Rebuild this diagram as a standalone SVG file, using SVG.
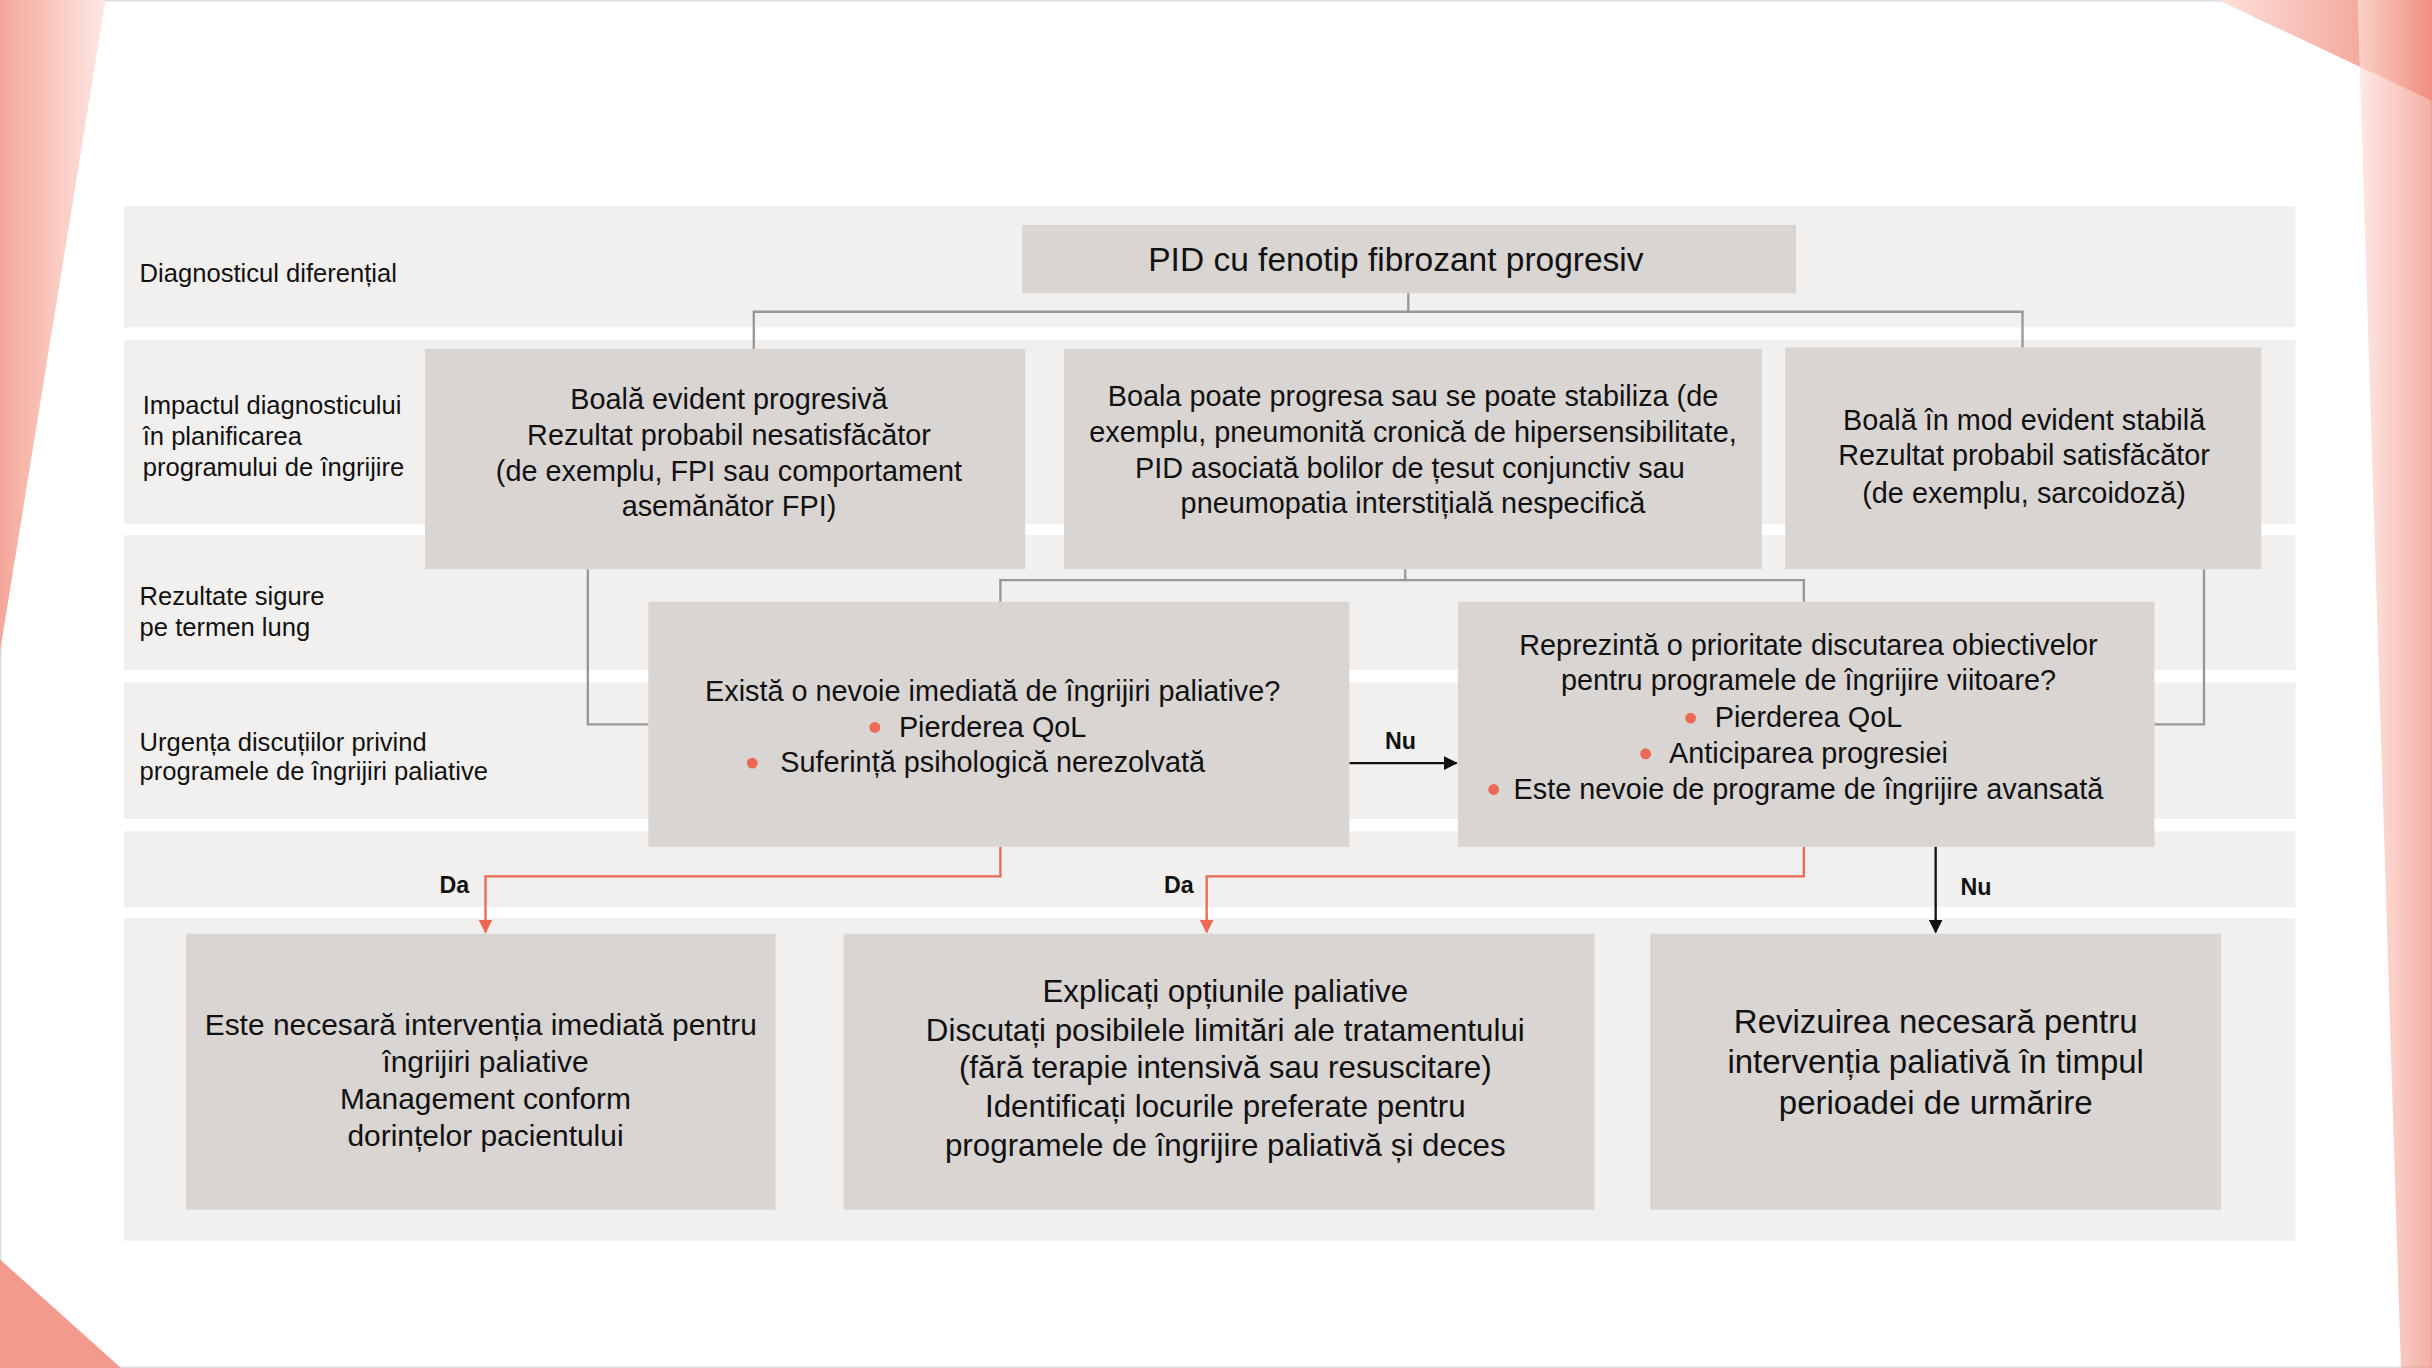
<svg xmlns="http://www.w3.org/2000/svg" width="2432" height="1368" viewBox="0 0 2432 1368">
<defs>
<style>
text{font-family:"Liberation Sans",Arial,sans-serif;fill:#111}
.band{fill:#f1f0ef}
.box{fill:#d9d5d3}
.lab{font-size:16.5px}
.t{font-size:18.6px;text-anchor:middle}
.t0{font-size:21.6px}
.t6{font-size:19.3px}
.t7{font-size:20.2px}
.t8{font-size:21.3px}
.g{fill:none;stroke:#9a9693;stroke-width:1.5}
.r{fill:none;stroke:#ec6a55;stroke-width:1.5}
.k{fill:none;stroke:#111;stroke-width:1.5}
.b{fill:#ec6a55}
.lb{font-size:15px;font-weight:bold;text-anchor:middle}
</style>
<linearGradient id="pl" x1="0" y1="0" x2="1" y2="0"><stop offset="0" stop-color="#f4a79a"/><stop offset="1" stop-color="#fde8e4"/></linearGradient>
<linearGradient id="pr" x1="0" y1="0" x2="1" y2="0"><stop offset="0" stop-color="#fde1dc"/><stop offset="1" stop-color="#f08e7e"/></linearGradient>
<marker id="ar" viewBox="0 0 10 10" refX="9" refY="5" markerWidth="6" markerHeight="6" orient="auto"><path d="M0,0L10,5L0,10z" fill="#ec6a55"/></marker>
<marker id="ak" viewBox="0 0 10 10" refX="9" refY="5" markerWidth="6" markerHeight="6" orient="auto"><path d="M0,0L10,5L0,10z" fill="#111"/></marker>
</defs>
<g transform="scale(1.55102)">
<rect width="1568" height="882" fill="#fff"/>
<rect x="0.5" y="0.5" width="1567" height="881" fill="none" stroke="#ddd"/>
<polygon points="0,0 68,0 0,420" fill="url(#pl)"/>
<polygon points="1430,0 1568,0 1568,65" fill="url(#pr)"/>
<polygon points="1520,0 1568,0 1568,882 1548,882" fill="url(#pr)" opacity="0.7"/>
<polygon points="0,812 78,882 0,882" fill="#f29a8b"/>
<g id="bands">
<rect class="band" x="80" y="133" width="1400" height="78"/>
<rect class="band" x="80" y="219" width="1400" height="119"/>
<rect class="band" x="80" y="345" width="1400" height="87"/>
<rect class="band" x="80" y="440" width="1400" height="88"/>
<rect class="band" x="80" y="536" width="1400" height="49"/>
<rect class="band" x="80" y="592" width="1400" height="208"/>
</g>
<g id="labels">
<text class="lab" x="90" y="182">Diagnosticul diferențial</text>
<text class="lab" x="92" y="267">Impactul diagnosticului</text>
<text class="lab" x="92" y="287">în planificarea</text>
<text class="lab" x="92" y="307">programului de îngrijire</text>
<text class="lab" x="90" y="390">Rezultate sigure</text>
<text class="lab" x="90" y="410">pe termen lung</text>
<text class="lab" x="90" y="484">Urgența discuțiilor privind</text>
<text class="lab" x="90" y="503">programele de îngrijiri paliative</text>
</g>
<g id="connectors">
<path class="g" d="M908,189V201M486,225V201H1304V225"/>
<path class="g" d="M906,367V374M645,388V374H1163V388"/>
<path class="g" d="M379,367V467H418M1421,367V467H1389"/>
<path class="k" d="M870,492H939" marker-end="url(#ak)"/>
<path class="r" d="M645,546V565H313V601" marker-end="url(#ar)"/>
<path class="r" d="M1163,546V565H778V601" marker-end="url(#ar)"/>
<path class="k" d="M1248,546V601" marker-end="url(#ak)"/>
<text class="lb" x="903" y="483">Nu</text>
<text class="lb" x="293" y="576">Da</text>
<text class="lb" x="760" y="576">Da</text>
<text class="lb" x="1274" y="577">Nu</text>
</g>
<g id="n0"><rect class="box" x="659" y="145" width="499" height="44"/><text class="t t0" x="900" y="175">PID cu fenotip fibrozant progresiv</text></g>
<g id="n1"><rect class="box" x="274" y="225" width="387" height="142"/><text class="t" x="470" y="264">Boală evident progresivă</text><text class="t" x="470" y="287">Rezultat probabil nesatisfăcător</text><text class="t" x="470" y="310">(de exemplu, FPI sau comportament</text><text class="t" x="470" y="333">asemănător FPI)</text></g>
<g id="n2"><rect class="box" x="686" y="225" width="450" height="142"/><text class="t" x="911" y="262">Boala poate progresa sau se poate stabiliza (de</text><text class="t" x="911" y="285">exemplu, pneumonită cronică de hipersensibilitate,</text><text class="t" x="909" y="308">PID asociată bolilor de țesut conjunctiv sau</text><text class="t" x="911" y="331">pneumopatia interstițială nespecifică</text></g>
<g id="n3"><rect class="box" x="1151" y="224" width="307" height="143"/><text class="t" x="1305" y="277">Boală în mod evident stabilă</text><text class="t" x="1305" y="300">Rezultat probabil satisfăcător</text><text class="t" x="1305" y="324">(de exemplu, sarcoidoză)</text></g>
<g id="n4"><rect class="box" x="418" y="388" width="452" height="158"/><text class="t" x="640" y="452">Există o nevoie imediată de îngrijiri paliative?</text><circle class="b" cx="564" cy="469" r="3.5"/><text class="t" x="640" y="475">Pierderea QoL</text><circle class="b" cx="485" cy="492" r="3.5"/><text class="t" x="640" y="498">Suferință psihologică nerezolvată</text></g>
<g id="n5"><rect class="box" x="940" y="388" width="449" height="158"/><text class="t" x="1166" y="422">Reprezintă o prioritate discutarea obiectivelor</text><text class="t" x="1166" y="445">pentru programele de îngrijire viitoare?</text><circle class="b" cx="1090" cy="463" r="3.5"/><text class="t" x="1166" y="469">Pierderea QoL</text><circle class="b" cx="1061" cy="486" r="3.5"/><text class="t" x="1166" y="492">Anticiparea progresiei</text><circle class="b" cx="963" cy="509" r="3.5"/><text class="t" x="1166" y="515">Este nevoie de programe de îngrijire avansată</text></g>
<g id="n6"><rect class="box" x="120" y="602" width="380" height="178"/><text class="t t6" x="310" y="667">Este necesară intervenția imediată pentru</text><text class="t t6" x="313" y="691">îngrijiri paliative</text><text class="t t6" x="313" y="715">Management conform</text><text class="t t6" x="313" y="739">dorințelor pacientului</text></g>
<g id="n7"><rect class="box" x="544" y="602" width="484" height="178"/><text class="t t7" x="790" y="646">Explicați opțiunile paliative</text><text class="t t7" x="790" y="671">Discutați posibilele limitări ale tratamentului</text><text class="t t7" x="790" y="695">(fără terapie intensivă sau resuscitare)</text><text class="t t7" x="790" y="720">Identificați locurile preferate pentru</text><text class="t t7" x="790" y="745">programele de îngrijire paliativă  și deces</text></g>
<g id="n8"><rect class="box" x="1064" y="602" width="368" height="178"/><text class="t t8" x="1248" y="666">Revizuirea necesară pentru</text><text class="t t8" x="1248" y="692">intervenția paliativă în timpul</text><text class="t t8" x="1248" y="718">perioadei de urmărire</text></g>
</g>
</svg>
